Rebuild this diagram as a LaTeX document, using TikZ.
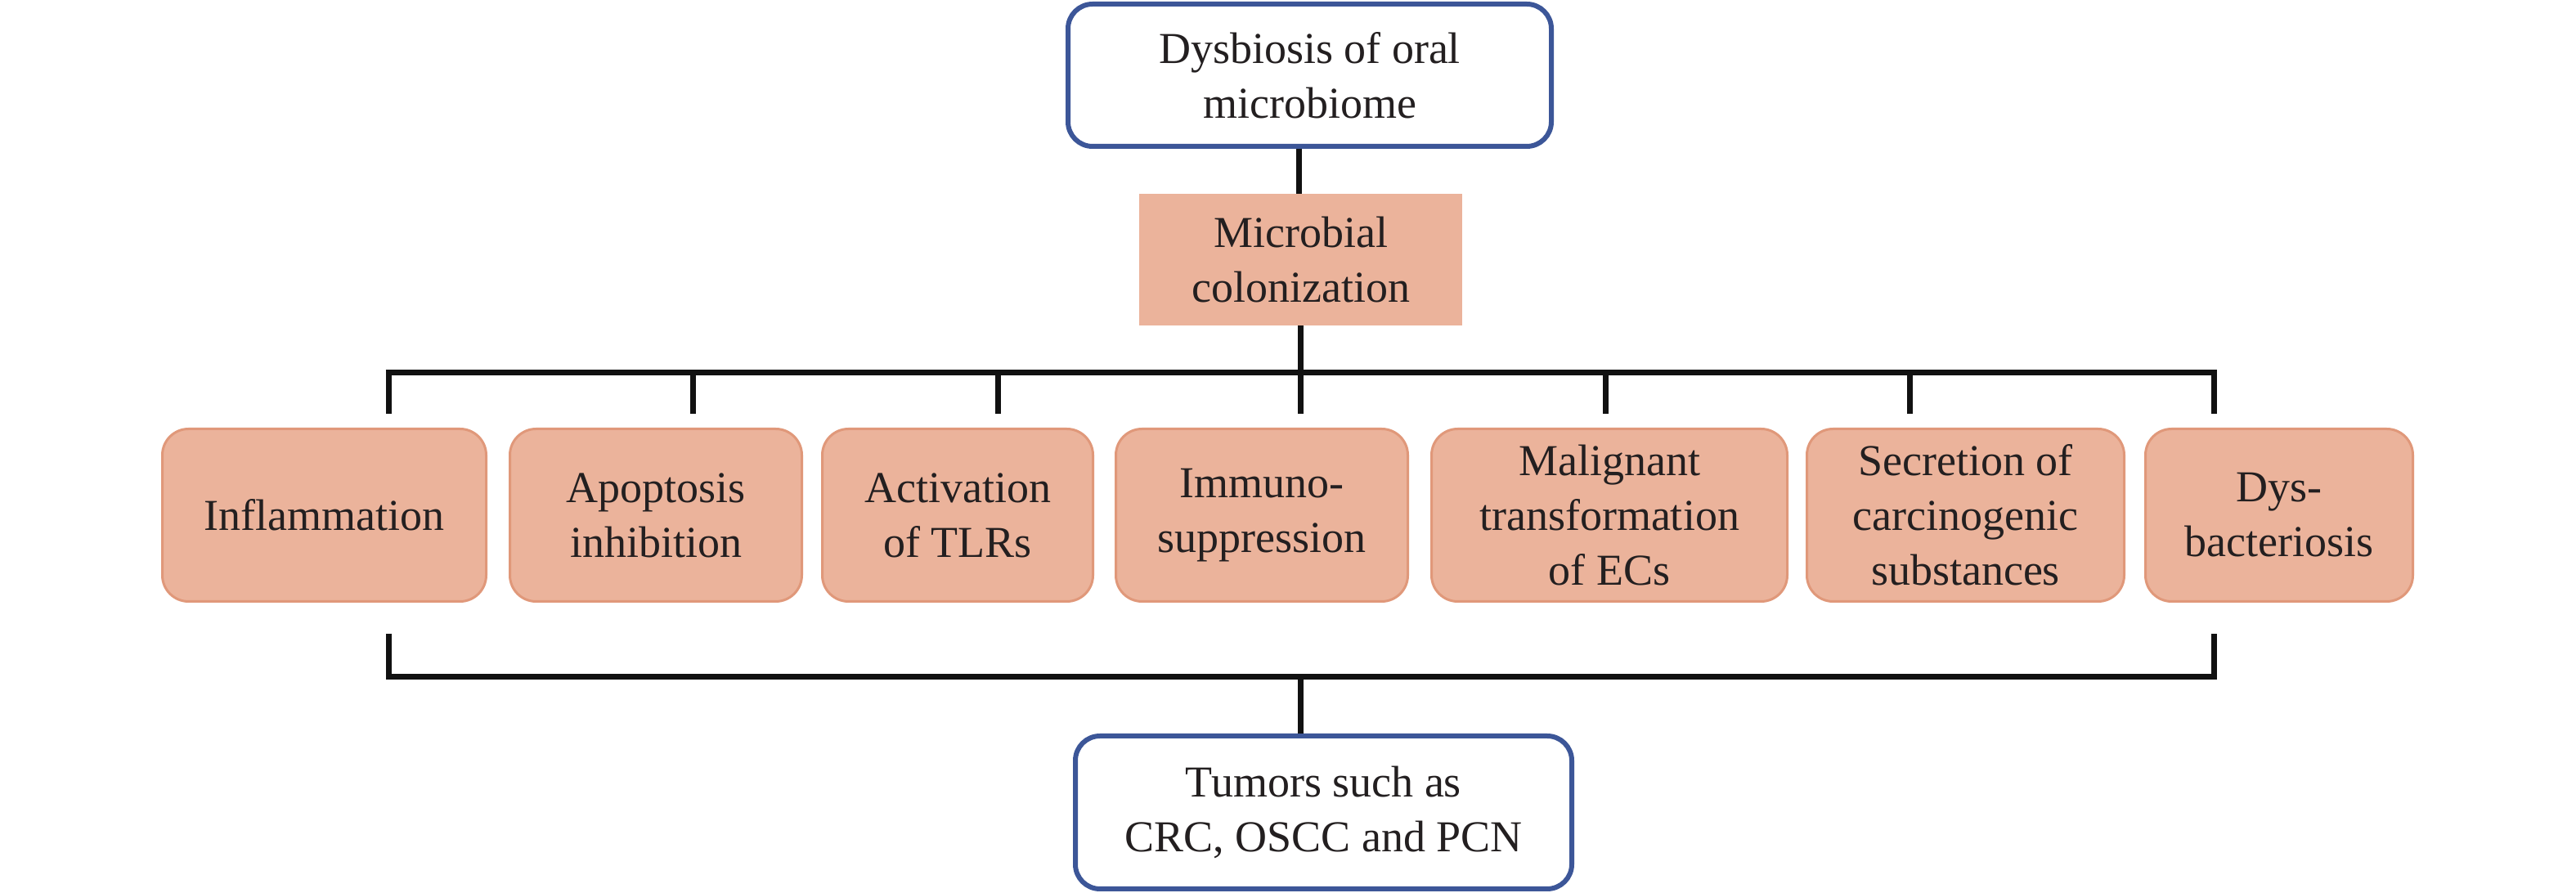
\documentclass[tikz,border=0pt]{standalone}
\usepackage{fontspec}
\setmainfont{Liberation Serif}
\definecolor{sal}{RGB}{235,179,155}
\definecolor{salbd}{RGB}{224,152,122}
\definecolor{bbl}{RGB}{60,86,152}
\definecolor{ink}{RGB}{35,31,32}
\definecolor{lk}{RGB}{17,17,17}
\begin{document}
\begin{tikzpicture}[x=1pt,y=1pt,
  txt/.style={font=\fontsize{27}{33.5}\selectfont, text=ink, align=center, inner sep=0pt},
  bluebox/.style={txt, draw=bbl, line width=3pt, rounded corners=15pt, fill=white},
  sbox/.style={txt, draw=salbd, fill=sal, line width=1.5pt, rounded corners=16pt, minimum height=105.5pt},
  link/.style={draw=lk, line width=3.5pt, line join=miter}]
\useasboundingbox (0,0) rectangle (1575,546);

\node[bluebox, minimum width=295.5pt, minimum height=87pt] (top) at (800.75,500) {Dysbiosis of oral\\microbiome};
\node[txt, fill=sal, minimum width=197.5pt, minimum height=80.5pt] (mc) at (795.25,387.25) {Microbial\\colonization};

\node[sbox, minimum width=198pt] (b1) at (198.25,231) {Inflammation};
\node[sbox, minimum width=178.5pt] (b2) at (401,231) {Apoptosis\\inhibition};
\node[sbox, minimum width=165.5pt] (b3) at (585.5,231) {Activation\\of TLRs};
\node[sbox, minimum width=178.5pt] (b4) at (771.5,231) {Immuno-\\suppression};
\node[sbox, minimum width=217.5pt] (b5) at (984,231) {Malignant\\transformation\\of ECs};
\node[sbox, minimum width=194pt] (b6) at (1201.75,231) {Secretion of\\carcinogenic\\substances};
\node[sbox, minimum width=163.5pt] (b7) at (1393.5,231) {Dys-\\bacteriosis};

\node[bluebox, minimum width=303.5pt, minimum height=93.5pt] (bot) at (809.25,49.25) {Tumors such as\\CRC, OSCC and PCN};

% top connectors
\coordinate (busC) at (795,318);
\draw[link] (top.south -| 794,0) -- (mc.north -| 794,0);
\draw[link] (mc.south -| busC) -- (busC);

% upper bus
\foreach \i/\xx in {1/237.5,2/423.5,3/610,4/795,5/981.5,6/1167.5,7/1353.5}{
  \coordinate (u\i) at (\xx,318);
  \coordinate (e\i) at (\xx,293);
}
\draw[link] ([xshift=-1.75pt]u1) -- ([xshift=1.75pt]u7);
\foreach \i in {1,...,7}{ \draw[link] ([yshift=1.75pt]e\i |- u1) -- (e\i); }

% lower bracket
\coordinate (l1) at (237.5,158.5);
\coordinate (l7) at (1353.5,158.5);
\coordinate (lc) at (795,132);
\draw[link] (l1) -- (l1 |- lc) -- (l7 |- lc) -- (l7);
\draw[link] (lc) -- (bot.north -| lc);
\end{tikzpicture}
\end{document}
